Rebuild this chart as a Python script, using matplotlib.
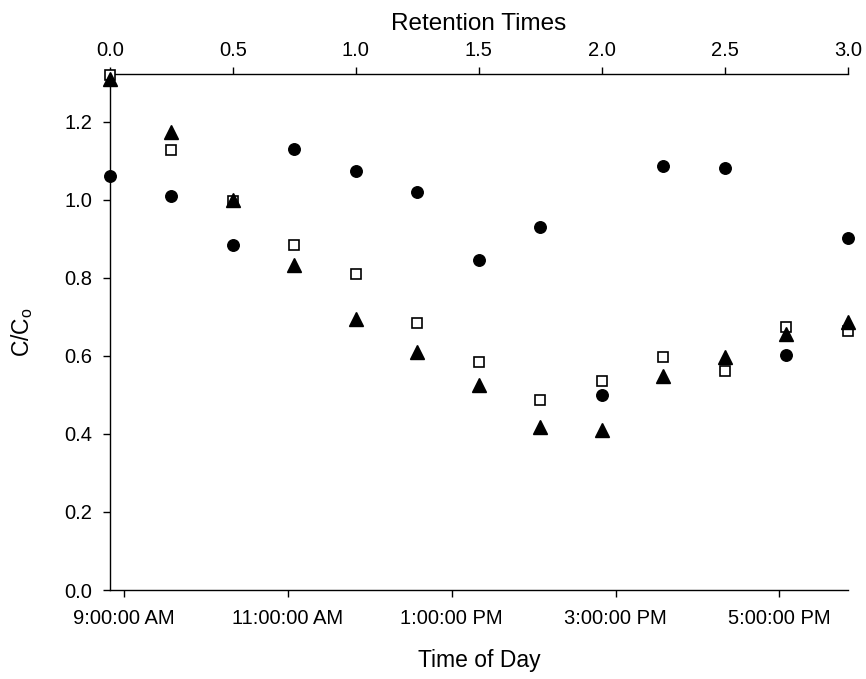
import datetime as dt
import matplotlib
matplotlib.use("Agg")
import matplotlib.pyplot as plt
import matplotlib.dates as mdates
from matplotlib.ticker import FuncFormatter

plt.rcParams['font.family'] = ['Liberation Sans', 'DejaVu Sans']

# retention times (top axis) and C/Co for the three series
rt = [0.0, 0.25, 0.5, 0.75, 1.0, 1.25, 1.5, 1.75, 2.0, 2.25, 2.5, 2.75, 3.0]
circles = [1.061, 1.009, 0.885, 1.129, 1.074, 1.020, 0.846, 0.929, 0.500, 1.087, 1.080, 0.601, 0.903]
squares = [1.32, 1.127, 0.996, 0.883, 0.809, 0.684, 0.583, 0.486, 0.535, 0.598, 0.561, 0.673, 0.664]
triangles = [1.31, 1.173, 1.0, 0.834, 0.695, 0.609, 0.526, 0.418, 0.411, 0.549, 0.596, 0.655, 0.686]

# time of day range matching retention 0..3
t_start = dt.datetime(2000, 1, 1, 8, 50)
t_end = dt.datetime(2000, 1, 1, 17, 50)
hour_ticks = [9, 11, 13, 15, 17]

fig = plt.figure(figsize=(8.66, 6.79), dpi=100)
ax = fig.add_axes([0.127, 0.131, 0.852, 0.760])
ax2 = ax.twiny()

ax.set_xlim(t_start, t_end)
ax.set_ylim(0, 1.322)
ax2.set_xlim(0, 3.0)

ax2.plot(rt, circles, 'o', color='black', ms=8.3, clip_on=False, zorder=3)
ax2.plot(rt, squares, 's', mfc='white', mec='black', mew=1.2, ms=7.8, clip_on=False, zorder=4)
ax2.plot(rt, triangles, '^', color='black', ms=9.5, clip_on=False, zorder=5)

def fmt_time(x, pos):
    d = mdates.num2date(x)
    h = d.hour % 12
    if h == 0:
        h = 12
    return f"{h}:{d.minute:02d}:00 {'AM' if d.hour < 12 else 'PM'}"

ax.xaxis.set_major_locator(mdates.HourLocator(byhour=hour_ticks))
ax.xaxis.set_major_formatter(FuncFormatter(fmt_time))
ax.set_yticks([0.0, 0.2, 0.4, 0.6, 0.8, 1.0, 1.2])
ax.yaxis.set_major_formatter(FuncFormatter(lambda v, p: f"{v:.1f}"))
ax2.set_xticks([0.0, 0.5, 1.0, 1.5, 2.0, 2.5, 3.0])
ax2.xaxis.set_major_formatter(FuncFormatter(lambda v, p: f"{v:.1f}"))

for a in (ax, ax2):
    a.spines['right'].set_visible(False)
    for s in a.spines.values():
        s.set_linewidth(1.0)
    a.tick_params(direction='out', length=5, width=1.0, labelsize=14.5)

ax.tick_params(axis='x', pad=9)
ax.tick_params(axis='y', pad=8)
ax2.tick_params(axis='x', pad=5)

ax2.spines['bottom'].set_visible(False)
ax2.spines['left'].set_visible(False)
ax.spines['top'].set_visible(False)

ax.set_xlabel("Time of Day", fontsize=16.5, labelpad=15)
ax.set_ylabel("C/C$_\\mathregular{o}$", fontsize=16.5, labelpad=21)
ax2.set_xlabel("Retention Times", fontsize=17.5, labelpad=8)

fig.savefig("out.png", dpi=100)
